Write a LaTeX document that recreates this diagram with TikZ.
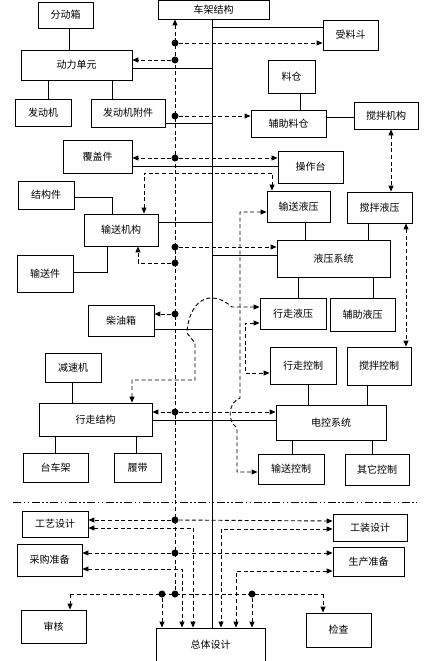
\documentclass[tikz,border=0pt]{standalone}
\usepackage{fontspec}
\newfontfamily\cjk{Noto Sans CJK SC}
\usetikzlibrary{arrows.meta,calc}
\begin{document}
\begin{tikzpicture}[x=1pt,y=-1pt,
  box/.style={draw,line width=0.8pt,inner sep=0pt,font=\cjk\fontsize{10}{12}\selectfont},
  conn/.style={line width=0.8pt},
  dsh/.style={line width=0.9pt,dash pattern=on 4pt off 2.6pt},
  arr/.style={-{Triangle[length=6pt,width=5pt]}},
  rarr/.style={{Triangle[length=6pt,width=5pt]}-},
  dbl/.style={{Triangle[length=6pt,width=5pt]}-{Triangle[length=6pt,width=5pt]}},
  bdot/.style={circle,fill,inner sep=0pt,minimum size=7pt},
  dashdotdot/.style={line width=0.8pt,dash pattern=on 8pt off 2.5pt on 1.5pt off 2.5pt on 1.5pt off 2.5pt}]
\useasboundingbox (0,0) rectangle (423,661);
% boxes
\node[box,minimum width=55pt,minimum height=26pt] (fdx) at (65.5,15) {分动箱};
\node[box,minimum width=111pt,minimum height=19pt] (cjjg) at (213.5,9.5) {车架结构};
\node[box,minimum width=111pt,minimum height=30pt] (dldy) at (76.5,65) {动力单元};
\node[box,minimum width=56pt,minimum height=27pt] (fdj) at (43,112.5) {发动机};
\node[box,minimum width=74pt,minimum height=28pt] (fdjfj) at (128,113) {发动机附件};
\node[box,minimum width=55pt,minimum height=30pt] (slD) at (350.5,35) {受料斗};
\node[box,minimum width=47pt,minimum height=33pt] (lc) at (291.5,76.5) {料仓};
\node[box,minimum width=75pt,minimum height=27pt] (fzlc) at (288.5,123.5) {辅助料仓};
\node[box,minimum width=64pt,minimum height=27pt] (jbjg) at (386,115.5) {搅拌机构};
\node[box,minimum width=69pt,minimum height=33pt] (fgj) at (97.5,156.5) {覆盖件};
\node[box,minimum width=65pt,minimum height=32pt] (czt) at (310.5,167) {操作台};
\node[box,minimum width=56pt,minimum height=28pt] (jgj) at (46,195) {结构件};
\node[box,minimum width=63pt,minimum height=31pt] (ssyy) at (298.5,206.5) {输送液压};
\node[box,minimum width=65pt,minimum height=31pt] (jbyy) at (379.5,207.5) {搅拌液压};
\node[box,minimum width=74pt,minimum height=32pt] (ssjg) at (121,230) {输送机构};
\node[box,minimum width=56pt,minimum height=37pt] (ssj) at (45,273.5) {输送件};
\node[box,minimum width=113pt,minimum height=37pt] (yyxt) at (333.5,258.5) {液压系统};
\node[box,minimum width=66pt,minimum height=31pt] (cyx) at (121,320.5) {柴油箱};
\node[box,minimum width=66pt,minimum height=31pt] (xzyy) at (293,313.5) {行走液压};
\node[box,minimum width=65pt,minimum height=33pt] (fzyy) at (362.5,314.5) {辅助液压};
\node[box,minimum width=56pt,minimum height=29pt] (jsj) at (73,367.5) {减速机};
\node[box,minimum width=66pt,minimum height=37pt] (xzkz) at (303,365.5) {行走控制};
\node[box,minimum width=64pt,minimum height=38pt] (jbkz) at (379,366) {搅拌控制};
\node[box,minimum width=113pt,minimum height=33pt] (xzjg) at (95.5,419.5) {行走结构};
\node[box,minimum width=110pt,minimum height=35pt] (dkxt) at (331,422.5) {电控系统};
\node[box,minimum width=65pt,minimum height=29pt] (tcj) at (55.5,467.5) {台车架};
\node[box,minimum width=47pt,minimum height=29pt] (ld) at (137.5,467.5) {履带};
\node[box,minimum width=66pt,minimum height=30pt] (sskz) at (291,469) {输送控制};
\node[box,minimum width=64pt,minimum height=31pt] (qtkz) at (377,469.5) {其它控制};
\node[box,minimum width=66pt,minimum height=26pt] (gysj) at (55,524) {工艺设计};
\node[box,minimum width=74pt,minimum height=27pt] (gzsj) at (370,527.5) {工装设计};
\node[box,minimum width=65pt,minimum height=32pt] (cgzb) at (49.5,560) {采购准备};
\node[box,minimum width=71pt,minimum height=29pt] (sczb) at (368.5,561.5) {生产准备};
\node[box,minimum width=65pt,minimum height=33pt] (sh) at (53.5,626.5) {审核};
\node[box,minimum width=109pt,minimum height=34pt] (ztsj) at (210.5,645) {总体设计};
\node[box,minimum width=65pt,minimum height=34pt] (jc) at (338.5,630) {检查};
% reference coordinates
\coordinate (T) at (212,0);
\coordinate (B) at (175,0);
% solid connectors
\draw[conn] (cjjg.south -| T) -- (ztsj.north -| T);
\draw[conn] (fdx.south -| 69,0) -- (dldy.north -| 69,0);
\draw[conn] (dldy.south -| 48,0) -- (fdj.north -| 48,0);
\draw[conn] (dldy.south -| 112,0) -- (fdjfj.north -| 112,0);
\draw[conn] (T |- 0,27) -- (slD.west |- 0,27);
\draw[conn] (dldy.east |- 0,68) -- (T |- 0,68);
\draw[conn] (fdjfj.east |- 0,123) -- (T |- 0,123);
\draw[conn] (lc.south -| 300,0) -- (fzlc.north -| 300,0);
\draw[conn] (fzlc.east |- 0,117) -- (jbjg.west |- 0,117);
\draw[conn] (fgj.east |- 0,166) -- (czt.west |- 0,166);
\draw[conn] (jgj.east |- 0,197) -| (ssjg.north -| 112,0);
\draw[conn] (ssj.east |- 0,272) -| (ssjg.south -| 107,0);
\draw[conn] (ssjg.east |- 0,222) -- (T |- 0,222);
\draw[conn] (T |- 0,255) -- (yyxt.west |- 0,255);
\draw[conn] (ssyy.south -| 305,0) -- (yyxt.north -| 305,0);
\draw[conn] (jbyy.south -| 368,0) -- (yyxt.north -| 368,0);
\draw[conn] (yyxt.south -| 298,0) -- (xzyy.north -| 298,0);
\draw[conn] (yyxt.south -| 373,0) -- (fzyy.north -| 373,0);
\draw[conn] (cyx.east |- 0,329) -- (T |- 0,329);
\draw[conn] (jsj.south -| 72,0) -- (xzjg.north -| 72,0);
\draw[conn] (xzjg.east |- 0,420) -- (dkxt.west |- 0,420);
\draw[conn] (xzjg.south -| 55,0) -- (tcj.north -| 55,0);
\draw[conn] (xzjg.south -| 136,0) -- (ld.north -| 136,0);
\draw[conn] (xzkz.south -| 308,0) -- (dkxt.north -| 308,0);
\draw[conn] (jbkz.south -| 367,0) -- (dkxt.north -| 367,0);
\draw[conn] (dkxt.south -| 292,0) -- (sskz.north -| 292,0);
\draw[conn] (dkxt.south -| 372,0) -- (qtkz.north -| 372,0);
% dots
\node[bdot] (d43) at (175,43) {};
\node[bdot] (d60) at (175,60) {};
\node[bdot] (d116) at (175,116) {};
\node[bdot] (d158) at (175,158) {};
\node[bdot] (d247) at (175,247) {};
\node[bdot] (d263) at (175,263) {};
\node[bdot] (d314) at (175,314) {};
\node[bdot] (d412) at (175,412) {};
\node[bdot] (d520) at (175,520) {};
\node[bdot] (d553) at (175,553) {};
\node[bdot] (d594) at (175,594) {};
\node[bdot] (d161) at (162,594) {};
\node[bdot] (d252) at (252,594) {};
\coordinate (c70) at (70,594);
\coordinate (c323) at (323,594);
% dashed bus
\draw[dsh,rarr] (cjjg.south -| B) -- (d594.center);
\draw[dsh,arr] (d43) -- (slD.west |- d43);
\draw[dsh,arr] (d60) -- (dldy.east |- d60);
\draw[dsh,arr] (d116) -- (fzlc.west |- d116);
\draw[dsh,arr] (d158) -- (fgj.east |- d158);
\draw[dsh,arr] (d158) -- (czt.west |- d158);
\draw[dsh,dbl] (ssjg.north -| 144,0) -- (144,173) -- (272,173) -- (ssyy.north -| 272,0);
\draw[dsh,dbl] (jbjg.south -| 391,0) -- (jbyy.north -| 391,0);
\draw[dsh,arr] (d247) -- (yyxt.west |- d247);
\draw[dsh,arr] (d263) -| (ssjg.south -| 138,0);
\draw[dsh,arr] (d314) -- (cyx.east |- d314);
\draw[dsh,arr] (d412) -- (xzjg.east |- d412);
\draw[dsh,arr] (d412) -- (dkxt.west |- d412);
\draw[dsh,dbl] (jbyy.south -| 406,0) -- (jbkz.north -| 406,0);
\draw[dsh,dbl] (ssyy.west |- 0,212) -- (240,212) -- (240,398) .. controls (229,402) and (226,420) .. (237,428) -- (237,472) -- (sskz.west |- 0,472);
\draw[dsh,dbl] (xzyy.west |- 0,323) -- (245,323) -- (245,373) -- (xzkz.west |- 0,373);
\draw[dsh,dbl] (xzjg.north -| 132,0) -- (132,380) -- (195,380) -- (195,343) -- (187,333) .. controls (188,315) and (195,303) .. (205,299) .. controls (215,296) and (224,300) .. (232,307) -- (xzyy.west |- 0,307);
% lower part
\draw[dashdotdot] (13,502) -- (417,502);
\draw[dsh,arr] (d520) -- (gysj.east |- d520);
\draw[dsh,arr] (d520) -- (gzsj.west |- 0,521);
\draw[dsh,dbl] (gysj.east |- 0,528) -| (ztsj.north -| 193,0);
\draw[dsh,dbl] (gzsj.west |- 0,529) -| (ztsj.north -| 221,0);
\draw[dsh,arr] (d553) -- (cgzb.east |- d553);
\draw[dsh,arr] (d553) -- (sczb.west |- d553);
\draw[dsh,dbl] (cgzb.east |- 0,569) -| (ztsj.north -| 182,0);
\draw[dsh,dbl] (sczb.west |- 0,571) -| (ztsj.north -| 236,0);
\draw[dsh] (c70) -- (c323);
\draw[dsh,arr] (c70) -- (sh.north -| c70);
\draw[dsh,arr] (c323) -- (jc.north -| c323);
\draw[dsh,arr] (d161) -- (ztsj.north -| d161);
\draw[dsh,arr] (d252) -- (ztsj.north -| d252);
\end{tikzpicture}
\end{document}
